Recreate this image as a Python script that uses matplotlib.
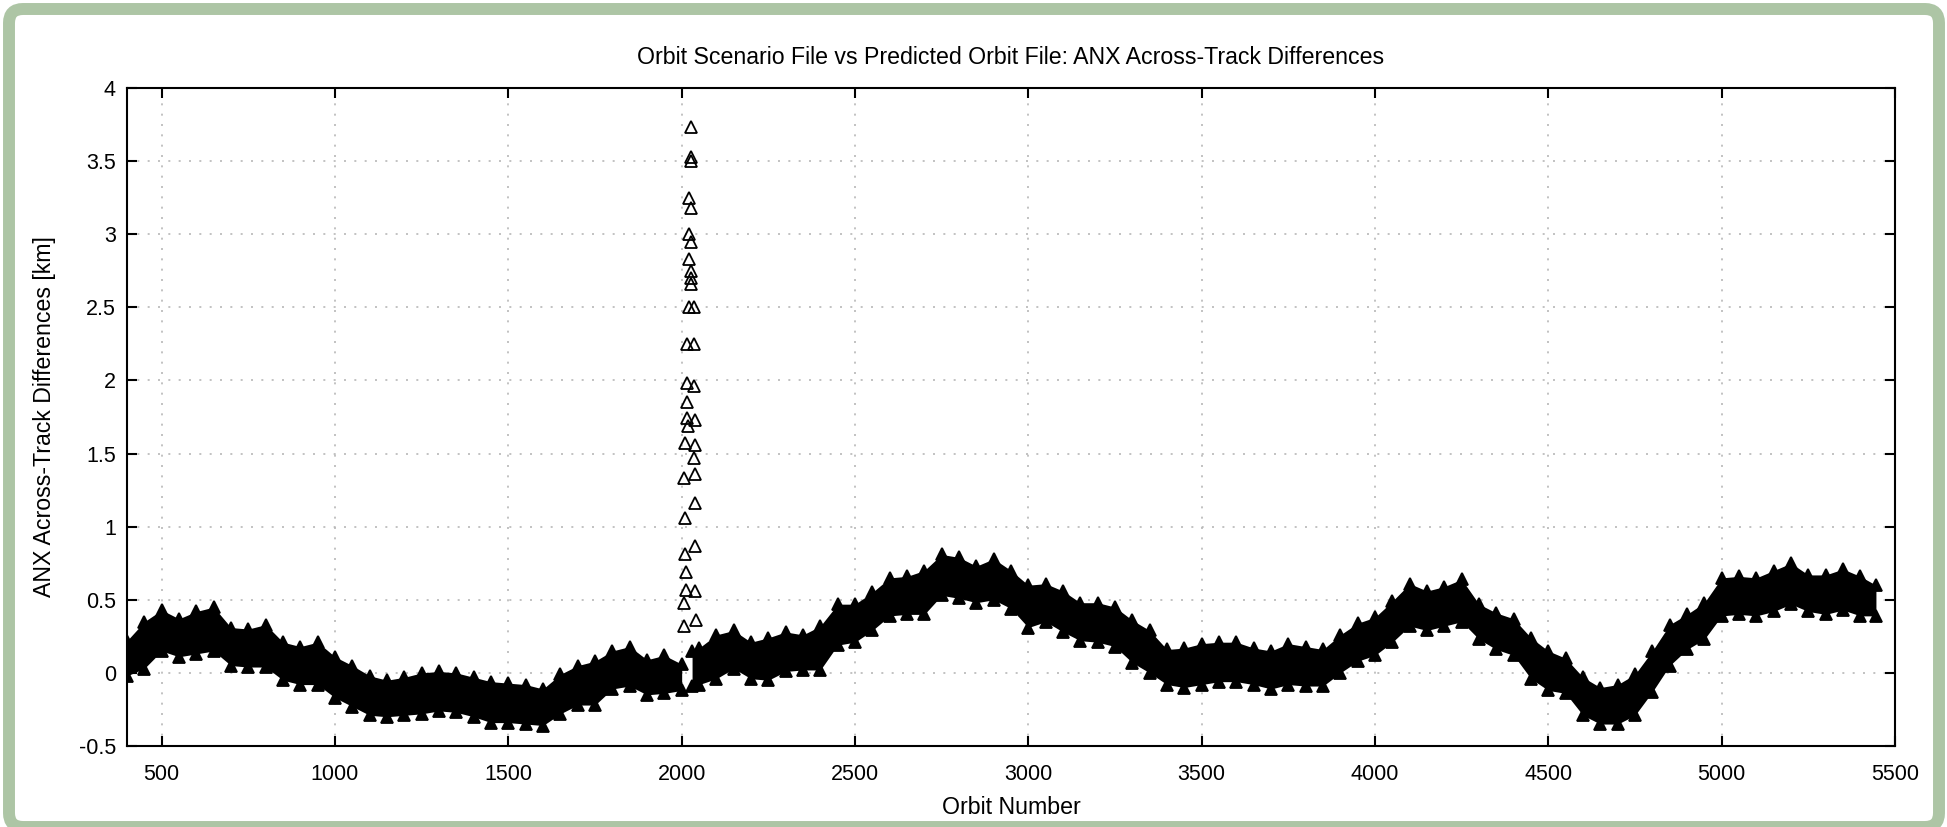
import matplotlib
matplotlib.use('Agg')
import matplotlib.pyplot as plt
import numpy as np
from matplotlib.patches import FancyBboxPatch
from matplotlib.transforms import IdentityTransform
from matplotlib.ticker import FormatStrFormatter

# ---- data (marker centres) ----
# band before the jump at orbit ~2010
orbit_a = [400, 450, 500, 550, 600, 650, 700, 750, 800, 850, 900, 950, 1000,
           1050, 1100, 1150, 1200, 1250, 1300, 1350, 1400, 1450, 1500, 1550,
           1600, 1650, 1700, 1750, 1800, 1850, 1900, 1950, 2000]
top_a = [0.22, 0.35, 0.43, 0.37, 0.42, 0.45, 0.31, 0.30, 0.33, 0.21, 0.18, 0.21,
         0.11, 0.05, -0.02, -0.05, -0.03, 0.00, 0.01, 0.00, -0.03, -0.06, -0.07,
         -0.08, -0.11, -0.01, 0.05, 0.08, 0.15, 0.18, 0.09, 0.12, 0.06]
bottom_a = [-0.02, 0.03, 0.15, 0.11, 0.13, 0.15, 0.05, 0.04, 0.04, -0.05, -0.08,
            -0.08, -0.17, -0.23, -0.29, -0.30, -0.29, -0.28, -0.26, -0.27, -0.30,
            -0.34, -0.34, -0.35, -0.36, -0.28, -0.22, -0.22, -0.11, -0.09, -0.15,
            -0.14, -0.12]

# band after the jump
orbit_b = [2030, 2050, 2100, 2150, 2200, 2250, 2300, 2350, 2400, 2450, 2500,
           2550, 2600, 2650, 2700, 2750, 2800, 2850, 2900, 2950, 3000, 3050,
           3100, 3150, 3200, 3250, 3300, 3350, 3400, 3450, 3500, 3550, 3600,
           3650, 3700, 3750, 3800, 3850, 3900, 3950, 4000, 4050, 4100, 4150,
           4200, 4250, 4300, 4350, 4400, 4450, 4500, 4550, 4600, 4650, 4700,
           4750, 4800, 4850, 4900, 4950, 5000, 5050, 5100, 5150, 5200, 5250,
           5300, 5350, 5400, 5445]
top_b = [0.15, 0.17, 0.26, 0.29, 0.21, 0.24, 0.28, 0.26, 0.32, 0.47, 0.47,
         0.55, 0.65, 0.66, 0.70, 0.81, 0.79, 0.73, 0.78, 0.70, 0.60, 0.61,
         0.56, 0.48, 0.48, 0.45, 0.36, 0.29, 0.16, 0.17, 0.20, 0.21, 0.21,
         0.17, 0.15, 0.20, 0.18, 0.16, 0.26, 0.34, 0.38, 0.49, 0.61, 0.56,
         0.59, 0.64, 0.47, 0.41, 0.37, 0.24, 0.15, 0.10, -0.03, -0.10, -0.08,
         -0.01, 0.15, 0.33, 0.40, 0.48, 0.65, 0.66, 0.65, 0.70, 0.75, 0.67,
         0.67, 0.71, 0.66, 0.60]
bottom_b = [-0.09, -0.08, -0.04, 0.03, -0.04, -0.05, 0.01, 0.02, 0.02, 0.19, 0.21,
            0.29, 0.39, 0.40, 0.40, 0.53, 0.51, 0.48, 0.50, 0.44, 0.31, 0.35,
            0.28, 0.22, 0.21, 0.18, 0.07, 0.00, -0.08, -0.10, -0.08, -0.06, -0.06,
            -0.08, -0.11, -0.08, -0.09, -0.09, 0.00, 0.08, 0.12, 0.21, 0.32, 0.29,
            0.32, 0.35, 0.23, 0.16, 0.12, -0.04, -0.12, -0.14, -0.29, -0.35, -0.35,
            -0.29, -0.13, 0.05, 0.16, 0.23, 0.39, 0.40, 0.39, 0.42, 0.47, 0.42,
            0.40, 0.43, 0.39, 0.39]

# isolated outliers around orbit 2000-2040
spike_orbit = [2028, 2027, 2027, 2022, 2028, 2022, 2028, 2020, 2028, 2027, 2026,
               2020, 2037, 2015, 2037, 2015, 2037, 2015, 2015, 2039, 2017, 2010,
               2039, 2037, 2008, 2039, 2039, 2010, 2039, 2010, 2012, 2012, 2039,
               2006, 2041, 2006]
spike_diff = [3.73, 3.53, 3.50, 3.25, 3.18, 3.00, 2.95, 2.83, 2.75, 2.70, 2.66,
              2.50, 2.50, 2.25, 2.25, 1.98, 1.96, 1.85, 1.74, 1.73, 1.69, 1.57,
              1.56, 1.47, 1.33, 1.36, 1.16, 1.06, 0.865, 0.81, 0.69, 0.57, 0.56,
              0.48, 0.36, 0.32]

xticks = np.arange(500, 5501, 500)
yticks = np.arange(-0.5, 4.01, 0.5)

plt.rcParams['font.family'] = ['Liberation Sans', 'DejaVu Sans']

fig = plt.figure(figsize=(19.47, 8.27), dpi=100, facecolor='white')
ax = fig.add_axes([127/1947, 81/827, 1768/1947, 658/827])

tri = dict(linestyle='none', marker='^', markersize=9, markerfacecolor='none',
           markeredgecolor='black', markeredgewidth=1.3)
# the band is so dense in the original that the edge triangles read as solid black
tri_band = dict(tri, markerfacecolor='black')

for o, t, b in [(orbit_a, top_a, bottom_a), (orbit_b, top_b, bottom_b)]:
    ax.fill_between(o, b, t, color='black', linewidth=0, zorder=3)
    ax.plot(o, t, zorder=4, **tri_band)
    ax.plot(o, b, zorder=4, **tri_band)

ax.plot(spike_orbit, spike_diff, zorder=4, **tri)

ax.set_xlim(400, 5500)
ax.set_ylim(-0.5, 4)
ax.set_xticks(xticks)
ax.set_yticks(yticks)
ax.yaxis.set_major_formatter(FormatStrFormatter('%g'))
ax.tick_params(direction='in', top=True, right=True, length=7, width=1.5,
               labelsize=15.5)
ax.tick_params(axis='x', pad=13)
ax.tick_params(axis='y', pad=8)
for s in ax.spines.values():
    s.set_linewidth(1.5)
ax.grid(True, color='#b8b8b8', linestyle=(0, (1.2, 5)), linewidth=1.2)
ax.set_axisbelow(True)

ax.set_title('Orbit Scenario File vs Predicted Orbit File: ANX Across-Track Differences',
             fontsize=16.7, pad=17)
ax.set_xlabel('Orbit Number', fontsize=16.7, labelpad=8)
ax.set_ylabel('ANX Across-Track Differences [km]', fontsize=16.7, labelpad=16)

# light green frame round the whole picture
frame = FancyBboxPatch((9, 0), 1930, 818, boxstyle='round,pad=0,rounding_size=14',
                       transform=IdentityTransform(), fill=False,
                       edgecolor='#adc5a5', linewidth=8.6)
fig.add_artist(frame)

fig.savefig('out.png', dpi=100, facecolor='white')
